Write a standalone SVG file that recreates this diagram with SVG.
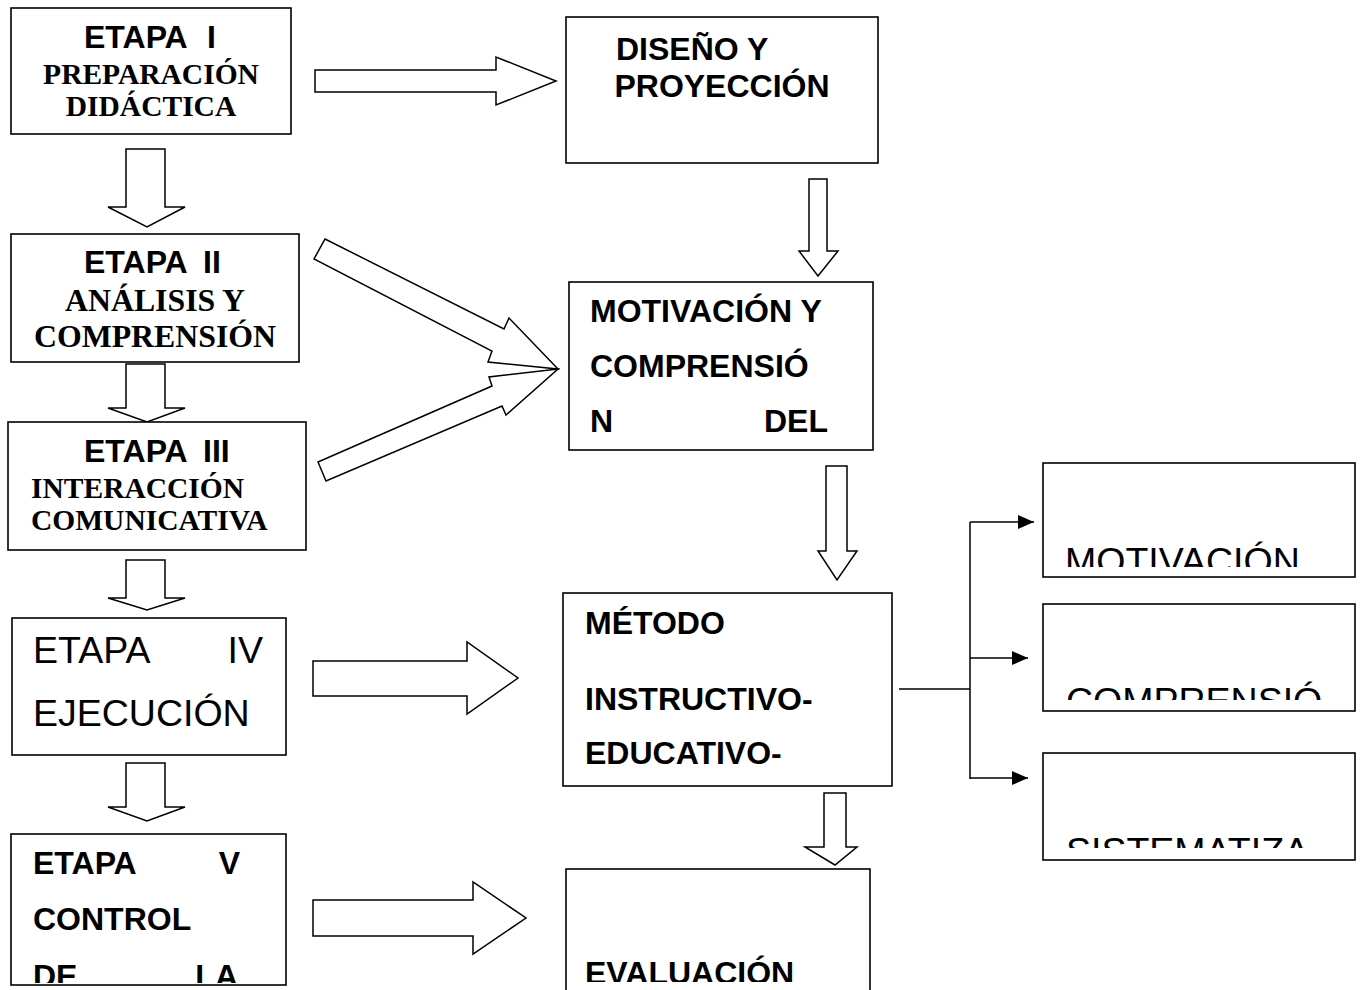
<svg xmlns="http://www.w3.org/2000/svg" width="1361" height="990" viewBox="0 0 1361 990">
<style>
.box{fill:#fff;stroke:#000;stroke-width:1.6}
.arr{fill:#fff;stroke:#000;stroke-width:1.5;stroke-linejoin:miter}
.ln{fill:none;stroke:#000;stroke-width:1.5}
.sb{font-family:"Liberation Sans",Arial,sans-serif;font-weight:bold;font-size:32px;fill:#000}
.sr{font-family:"Liberation Sans",Arial,sans-serif;font-size:37.5px;fill:#000}
.tb{font-family:"Liberation Serif","Times New Roman",serif;font-weight:bold;font-size:29.5px;fill:#000}
.tl{font-size:31.8px}
.c{text-anchor:middle}
</style>
<defs>
<marker id="ah" markerUnits="userSpaceOnUse" markerWidth="17" markerHeight="14" refX="16" refY="7" orient="auto">
<path d="M0,0 L16,7 L0,14 Z" fill="#000"/>
</marker>
<clipPath id="clipA"><rect x="1043" y="463" width="312" height="104"/></clipPath>
<clipPath id="clipB"><rect x="1043" y="604" width="312" height="96"/></clipPath>
<clipPath id="clipC"><rect x="1043" y="753" width="312" height="95"/></clipPath>
<clipPath id="clipV"><rect x="11" y="834" width="275" height="149"/></clipPath>
<clipPath id="clipE"><rect x="566" y="869" width="304" height="113"/></clipPath>
</defs>

<g id="connectors">
<polygon class="arr" points="315,70 496,70 496,57 556,81 496,105 496,92 315,92"/>
<polygon class="arr" points="126,149 165,149 165,207 185,207 147,227 108,207 126,207"/>
<polygon class="arr" points="126,364 165,364 165,408 185,408 147,422 108,408 126,408"/>
<polygon class="arr" points="126,560 165,560 165,598 185,598 147,610 108,598 126,598"/>
<polygon class="arr" points="126,763 165,763 165,807 185,807 147,821 108,807 126,807"/>
<polygon class="arr" points="325,239 504,329 509,318 558,369 488,362 492,351 314,259"/>
<polygon class="arr" points="318,462 492,386 489,377 558,369 506,415 502,406 326,481"/>
<polygon class="arr" points="313,661 467,661 467,642 518,678 467,714 467,696 313,696"/>
<polygon class="arr" points="313,900 473,900 473,882 526,918 473,954 473,936 313,936"/>
<polygon class="arr" points="809,179 827,179 827,251 838,251 818,276 799,251 809,251"/>
<polygon class="arr" points="826,466 847,466 847,551 857,551 837,580 818,551 826,551"/>
<polygon class="arr" points="824,793 846,793 846,847 857,847 835,865 805,847 824,847"/>
<path class="ln" d="M899,689 H970 M970,522 V779"/>
<path class="ln" d="M970,522 H1034" marker-end="url(#ah)"/>
<path class="ln" d="M970,658 H1028" marker-end="url(#ah)"/>
<path class="ln" d="M970,778 H1028" marker-end="url(#ah)"/>
</g>

<g id="etapa1">
<rect class="box" x="11" y="8" width="280" height="126"/>
<text class="sb" x="84" y="48">ETAPA <tspan x="207">I</tspan></text>
<text class="tb c" x="151" y="84">PREPARACIÓN</text>
<text class="tb c" x="151" y="116">DIDÁCTICA</text>
</g>

<g id="diseno">
<rect class="box" x="566" y="17" width="312" height="146"/>
<text class="sb" x="616" y="60">DISEÑO Y</text>
<text class="sb c" x="722" y="97">PROYECCIÓN</text>
</g>

<g id="etapa2">
<rect class="box" x="11" y="234" width="288" height="128"/>
<text class="sb" x="84" y="273">ETAPA <tspan x="203">II</tspan></text>
<text class="tb tl c" x="155" y="311">ANÁLISIS Y</text>
<text class="tb tl c" x="155" y="347">COMPRENSIÓN</text>
</g>

<g id="motivacion">
<rect class="box" x="569" y="282" width="304" height="168"/>
<text class="sb" x="590" y="322">MOTIVACIÓN Y</text>
<text class="sb" x="590" y="377">COMPRENSIÓ</text>
<text class="sb" x="590" y="432">N <tspan x="828" text-anchor="end">DEL</tspan></text>
</g>

<g id="etapa3">
<rect class="box" x="8" y="422" width="298" height="128"/>
<text class="sb" x="84" y="462">ETAPA <tspan x="203">III</tspan></text>
<text class="tb" x="31" y="498">INTERACCIÓN</text>
<text class="tb" x="31" y="530">COMUNICATIVA</text>
</g>

<g id="etapa4">
<rect class="box" x="12" y="618" width="274" height="137"/>
<text class="sr" x="33" y="663">ETAPA <tspan x="263" text-anchor="end">IV</tspan></text>
<text class="sr" x="33" y="726">EJECUCIÓN</text>
</g>

<g id="metodo">
<rect class="box" x="563" y="593" width="329" height="193"/>
<text class="sb" x="585" y="634">MÉTODO</text>
<text class="sb" x="585" y="710">INSTRUCTIVO-</text>
<text class="sb" x="585" y="764">EDUCATIVO-</text>
</g>

<g id="etapa5">
<rect class="box" x="11" y="834" width="275" height="151"/>
<g clip-path="url(#clipV)">
<text class="sb" x="33" y="874">ETAPA <tspan x="240" text-anchor="end">V</tspan></text>
<text class="sb" x="33" y="930">CONTROL</text>
<text class="sb" x="33" y="987">DE <tspan x="238" text-anchor="end">LA</tspan></text>
</g>
</g>

<g id="evaluacion">
<rect class="box" x="566" y="869" width="304" height="130"/>
<g clip-path="url(#clipE)">
<text class="sb" x="585" y="984">EVALUACIÓN</text>
</g>
</g>

<g id="sub-motivacion">
<rect class="box" x="1043" y="463" width="312" height="114"/>
<g clip-path="url(#clipA)"><text class="sr" x="1065" y="574">MOTIVACIÓN</text></g>
</g>

<g id="sub-comprension">
<rect class="box" x="1043" y="604" width="312" height="107"/>
<g clip-path="url(#clipB)"><text class="sr" x="1066" y="714">COMPRENSIÓ</text></g>
</g>

<g id="sub-sistematiza">
<rect class="box" x="1043" y="753" width="312" height="107"/>
<g clip-path="url(#clipC)"><text class="sr" x="1066" y="864">SISTEMATIZA</text></g>
</g>
</svg>
